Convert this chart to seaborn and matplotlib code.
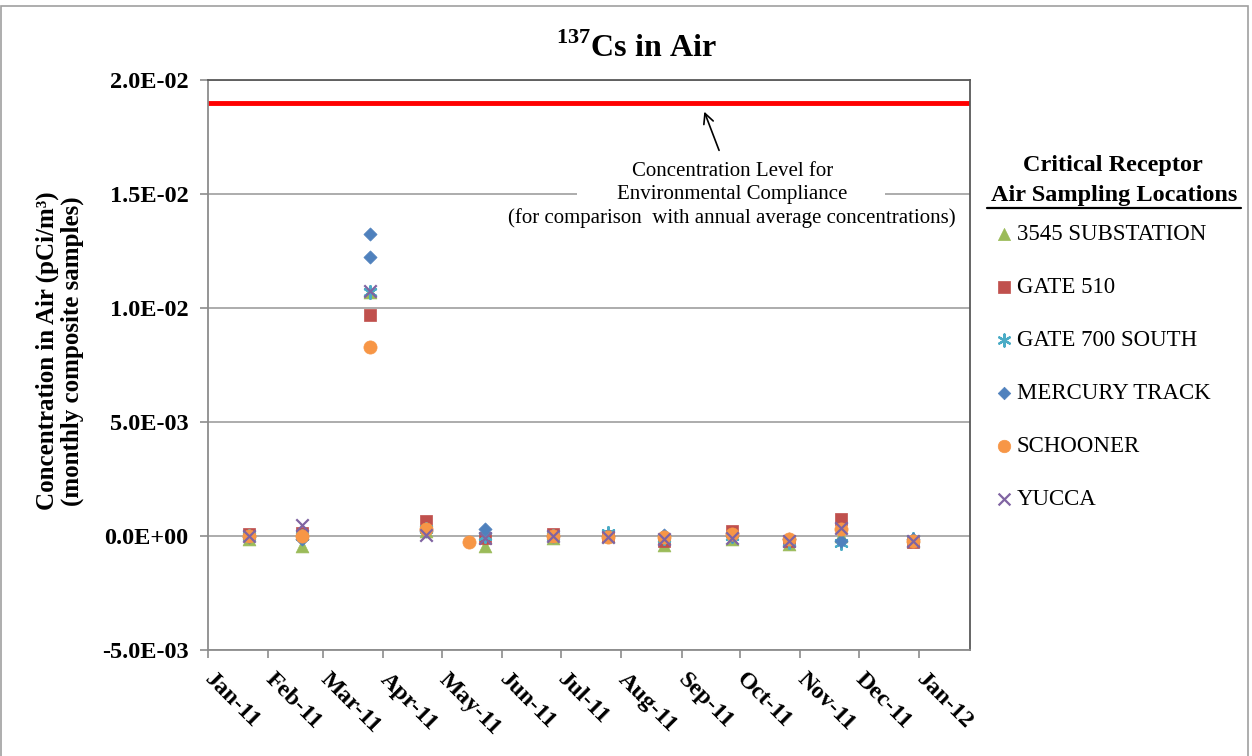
import matplotlib
matplotlib.use("Agg")
import matplotlib.pyplot as plt
import matplotlib.dates as mdates
from matplotlib.ticker import FuncFormatter
from matplotlib.lines import Line2D
from matplotlib.patches import Rectangle
import seaborn as sns
import pandas as pd

# ---------------- data ----------------
SERIES_NAMES = ["3545 SUBSTATION", "GATE 510", "GATE 700 SOUTH",
                "MERCURY TRACK", "SCHOONER", "YUCCA"]

DATES = ["2011-01-22", "2011-02-18", "2011-03-25", "2011-04-23", "2011-05-23",
         "2011-06-27", "2011-07-25", "2011-08-23", "2011-09-27", "2011-10-26",
         "2011-11-22", "2011-12-29"]

SUBSTATION_3545 = [-0.15e-3, -0.44e-3, 10.7e-3, 0.20e-3, -0.44e-3, -0.10e-3,
                   0.00e-3, -0.38e-3, -0.15e-3, -0.35e-3, 0.00e-3, -0.20e-3]
GATE_510 = [0.10e-3, 0.15e-3, 9.68e-3, 0.66e-3, -0.10e-3, 0.10e-3,
            0.00e-3, -0.20e-3, 0.20e-3, -0.20e-3, 0.73e-3, -0.25e-3]
GATE_700_SOUTH = [0.00e-3, 0.00e-3, 10.7e-3, 0.30e-3, 0.00e-3, 0.00e-3,
                  0.15e-3, -0.10e-3, 0.00e-3, -0.25e-3, -0.30e-3, -0.15e-3]
MERCURY_DATES = DATES[:3] + ["2011-03-25"] + DATES[3:]
MERCURY_TRACK = [-0.05e-3, -0.15e-3, 13.25e-3, 12.25e-3, 0.20e-3, 0.30e-3,
                 0.00e-3, 0.00e-3, 0.05e-3, 0.00e-3, -0.15e-3, -0.20e-3, -0.15e-3]
SCHOONER_DATES = DATES[:4] + ["2011-05-15"] + DATES[5:]
SCHOONER = [0.00e-3, 0.00e-3, 8.28e-3, 0.30e-3, -0.26e-3, 0.00e-3,
            -0.05e-3, -0.05e-3, 0.10e-3, -0.15e-3, 0.30e-3, -0.20e-3]
YUCCA = [0.00e-3, 0.50e-3, 10.75e-3, 0.05e-3, -0.10e-3, 0.00e-3,
         -0.05e-3, -0.15e-3, -0.10e-3, -0.20e-3, 0.35e-3, -0.20e-3]

COMPLIANCE_LEVEL = 1.9e-2
Y_TICKS = [-5e-3, 0.0, 5e-3, 1e-2, 1.5e-2, 2e-2]
X_TICKS = pd.date_range("2011-01-01", "2012-01-01", freq="MS")

SERIES = [
    (SERIES_NAMES[0], DATES, SUBSTATION_3545),
    (SERIES_NAMES[1], DATES, GATE_510),
    (SERIES_NAMES[2], DATES, GATE_700_SOUTH),
    (SERIES_NAMES[3], MERCURY_DATES, MERCURY_TRACK),
    (SERIES_NAMES[4], SCHOONER_DATES, SCHOONER),
    (SERIES_NAMES[5], DATES, YUCCA),
]

STYLE = {
    "3545 SUBSTATION": dict(marker="^", color="#9BBB59", s=85, filled=True),
    "GATE 510": dict(marker="s", color="#C0504D", s=85, filled=True),
    "GATE 700 SOUTH": dict(marker=(6, 2, 0), color="#4BACC6", s=85, filled=False),
    "MERCURY TRACK": dict(marker="D", color="#4F81BD", s=45, filled=True),
    "SCHOONER": dict(marker="o", color="#F79646", s=90, filled=True),
    "YUCCA": dict(marker="x", color="#8064A2", s=80, filled=False),
}

# ---------------- style ----------------
sns.set_style("white")
plt.rcParams["font.family"] = ["Liberation Serif", "DejaVu Serif"]
plt.rcParams["mathtext.fontset"] = "custom"
plt.rcParams["mathtext.rm"] = "Liberation Serif"
plt.rcParams["mathtext.bf"] = "Liberation Serif:bold"
for key in ["text.color", "axes.labelcolor", "xtick.labelcolor", "ytick.labelcolor"]:
    plt.rcParams[key] = "black"

W, H = 1252, 756
fig = plt.figure(figsize=(W / 100, H / 100), dpi=100)
ax = fig.add_axes([208 / W, 1 - 650 / H, 762 / W, 570 / H])

for name, dates, vals in SERIES:
    st = STYLE[name]
    df = pd.DataFrame({"date": pd.to_datetime(dates), "value": vals})
    lw = 0.5 if st["filled"] else 1.6
    sns.scatterplot(data=df, x="date", y="value", ax=ax, marker=st["marker"],
                    color=st["color"], edgecolor=st["color"], linewidth=lw,
                    s=st["s"], label=name, zorder=3, legend=False)

ax.axhline(COMPLIANCE_LEVEL, color="#FF0000", lw=3.5, zorder=2)

ax.set_xlim(pd.Timestamp("2011-01-01"), pd.Timestamp("2012-01-27"))
ax.set_ylim(Y_TICKS[0], Y_TICKS[-1])
ax.set_yticks(Y_TICKS)
ax.yaxis.set_major_formatter(FuncFormatter(lambda v, p: f"{v:.1E}"))
ax.set_xticks(X_TICKS)
ax.xaxis.set_major_formatter(mdates.DateFormatter("%b-%y"))

ax.grid(axis="y", color="#A6A6A6", lw=1.3)
ax.grid(axis="x", visible=False)
ax.set_axisbelow(True)
ax.tick_params(axis="both", which="major", bottom=True, left=True, direction="out",
               length=6, width=1.2, color="#8C8C8C", labelsize=17.5)
ax.tick_params(axis="y", pad=8)
ax.tick_params(axis="x", pad=13)
for lbl in ax.get_yticklabels():
    lbl.set_fontweight("bold")
for lbl in ax.get_xticklabels():
    lbl.set_fontweight("bold")
    lbl.set_rotation(-45)
    lbl.set_ha("left")
    lbl.set_va("center")
    lbl.set_rotation_mode("anchor")

for side in ["left", "bottom"]:
    ax.spines[side].set_color("#8C8C8C")
    ax.spines[side].set_linewidth(1.3)
for side in ["top", "right"]:
    ax.spines[side].set_color("#595959")
    ax.spines[side].set_linewidth(1.3)

ax.set_xlabel("")
ax.set_ylabel("Concentration in Air (pCi/m³)\n(monthly composite samples)",
              fontsize=18, fontweight="bold", linespacing=1.05)
ax.yaxis.set_label_coords(-0.163, 0.525)

# gap in the 1.5E-02 gridline behind the annotation
ax.add_patch(Rectangle((0.484, 0.785), 0.404, 0.03, transform=ax.transAxes,
                       facecolor="white", edgecolor="none", zorder=1))
ax.text(0.688, 0.857,
        "Concentration Level for\nEnvironmental Compliance\n"
        "(for comparison  with annual average concentrations)",
        transform=ax.transAxes, ha="center", va="top", fontsize=15,
        linespacing=1.3, zorder=5)
ax.annotate("", xy=(0.650, 0.949), xytext=(0.672, 0.872),
            xycoords="axes fraction", textcoords="axes fraction",
            arrowprops=dict(arrowstyle="->", color="black", lw=1.2,
                            mutation_scale=18))

# title
fig.text(0.508, 1 - 57 / H, r"$^{\mathbf{137}}$Cs in Air", ha="center",
         va="baseline", fontsize=23, fontweight="bold")

# legend
fig.text(1113 / W, 1 - 165 / H, "Critical Receptor", ha="center", va="center",
         fontsize=17.5, fontweight="bold")
fig.text(1114 / W, 1 - 195 / H, "Air Sampling Locations", ha="center",
         va="center", fontsize=17.5, fontweight="bold")
fig.add_artist(Line2D([987 / W, 1241 / W], [1 - 208 / H, 1 - 208 / H],
                      transform=fig.transFigure, color="black", lw=1.6))
handles, labels = ax.get_legend_handles_labels()
fig.legend(handles, labels, loc="upper left", bbox_to_anchor=(996 / W, 1 - 224 / H),
           frameon=False, fontsize=16.5, borderpad=0, borderaxespad=0,
           handlelength=0.7, handletextpad=0.2, labelspacing=1.39,
           scatterpoints=1, markerscale=0.95)

# outer border
fig.add_artist(Rectangle((1 / W, -0.01), 1247 / W, 1.01 - 6 / H,
                         transform=fig.transFigure, facecolor="none",
                         edgecolor="#A0A0A0", lw=1.2))

fig.savefig("out.png", dpi=100)
